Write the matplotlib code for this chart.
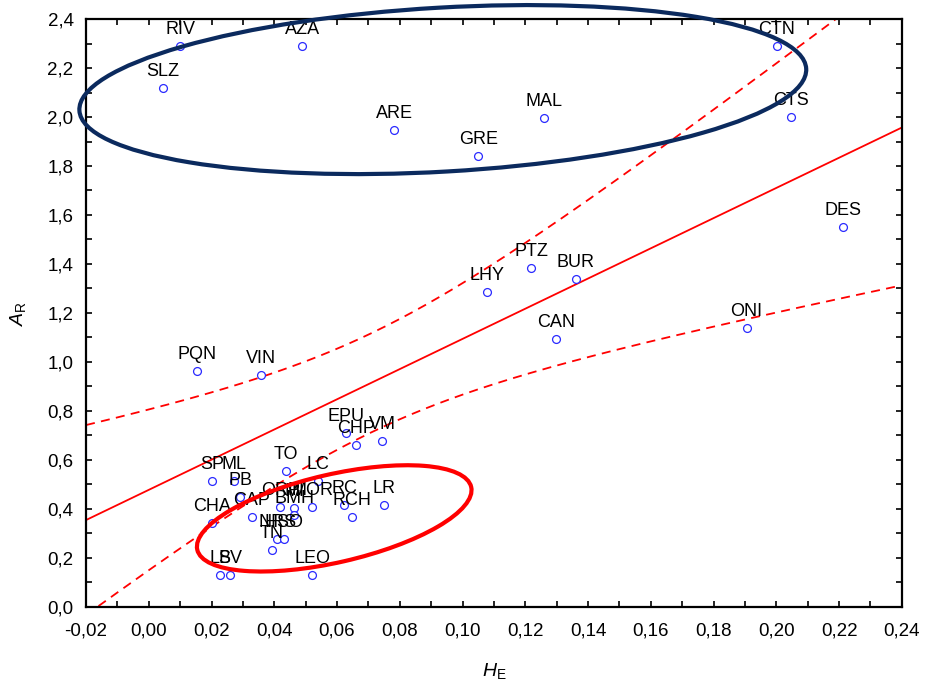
import numpy as np
import matplotlib
matplotlib.use("Agg")
import matplotlib.pyplot as plt
from matplotlib.patches import Ellipse
from matplotlib.transforms import ScaledTranslation
from matplotlib.ticker import MultipleLocator, FuncFormatter

plt.rcParams['font.family'] = ['Liberation Sans', 'DejaVu Sans']
plt.rcParams['mathtext.fontset'] = 'custom'
plt.rcParams['mathtext.rm'] = 'Liberation Sans'
plt.rcParams['mathtext.it'] = 'Liberation Sans:italic'

# Populations: expected heterozygosity (H_E) and allelic richness (A_R)
labels = ["RIV", "AZA", "SLZ", "ARE", "MAL", "GRE", "CTN", "CTS", "DES",
          "PTZ", "BUR", "LHY", "CAN", "ONI", "PQN", "VIN", "EPU", "CHP",
          "VM", "TO", "SP", "ML", "LC", "PB", "CHA", "RC", "RCH", "LR",
          "LEO", "LS", "BV", "TN", "CAP", "ORP", "MI", "MOR", "BMH",
          "NRS", "HSO"]
he = [0.0100, 0.0489, 0.0046, 0.0782, 0.1258, 0.1050, 0.2001, 0.2046, 0.2211,
      0.1219, 0.1360, 0.1079, 0.1299, 0.1905, 0.0154, 0.0358, 0.0629, 0.0661,
      0.0744, 0.0438, 0.0202, 0.0272, 0.0540, 0.0291, 0.0202, 0.0623, 0.0649, 0.0751,
      0.0521, 0.0227, 0.0259, 0.0393, 0.0329, 0.0419, 0.0463, 0.0521, 0.0463,
      0.0409, 0.0432]
ar = [2.290, 2.290, 2.118, 1.947, 1.996, 1.841, 2.290, 2.000, 1.551,
      1.384, 1.339, 1.286, 1.094, 1.139, 0.963, 0.947, 0.710, 0.661,
      0.678, 0.555, 0.514, 0.514, 0.514, 0.449, 0.343, 0.416, 0.367, 0.416,
      0.131, 0.131, 0.131, 0.233, 0.367, 0.408, 0.404, 0.408, 0.376,
      0.278, 0.278]

x = np.array(he)
y = np.array(ar)

# Linear fit with 95% confidence band for the mean
n = len(x)
slope, intercept = np.polyfit(x, y, 1)
resid = y - (slope * x + intercept)
s = np.sqrt(np.sum(resid ** 2) / (n - 2))
sxx = np.sum((x - x.mean()) ** 2)
t_crit = 2.026
xs = np.linspace(-0.02, 0.24, 300)
fit = slope * xs + intercept
half = t_crit * s * np.sqrt(1.0 / n + (xs - x.mean()) ** 2 / sxx)

fig = plt.figure(figsize=(9.25, 6.81), dpi=100)
ax = fig.add_axes([0.093, 0.109, 0.882, 0.863])

ax.plot(xs, fit, color='#ff0000', lw=1.3, zorder=2)
ax.plot(xs, fit + half, color='#ff0000', lw=1.3, ls=(0, (5, 3.5)), zorder=2)
ax.plot(xs, fit - half, color='#ff0000', lw=1.3, ls=(0, (5, 3.5)), zorder=2)

ax.scatter(x, y, s=32, facecolors='white', edgecolors='#2a2aff', linewidths=0.9, zorder=3)

for lab, xi, yi in zip(labels, x, y):
    ax.annotate(lab, (xi, yi), xytext=(0, 8.5), textcoords='offset points',
                ha='center', va='baseline', fontsize=13, color='black', zorder=4)

# Group outlines (sizes in inches, centred on data positions)
def outline(cx, cy, w, h, ang, color):
    tr = fig.dpi_scale_trans + ScaledTranslation(cx, cy, ax.transData)
    e = Ellipse((0, 0), w, h, angle=ang, fill=False, edgecolor=color,
                lw=3.0, transform=tr, clip_on=False, zorder=5)
    ax.add_patch(e)

outline(0.0937, 2.112, 7.28, 1.64, 3.3, '#0b2a5e')
outline(0.0591, 0.361, 2.81, 0.88, 12.9, '#ff0000')

ax.set_xlim(-0.02, 0.24)
ax.set_ylim(0.0, 2.4)
ax.xaxis.set_major_locator(MultipleLocator(0.02))
ax.xaxis.set_minor_locator(MultipleLocator(0.01))
ax.yaxis.set_major_locator(MultipleLocator(0.2))
ax.yaxis.set_minor_locator(MultipleLocator(0.1))

def comma_fmt(decimals):
    return FuncFormatter(lambda v, p: f"{v:.{decimals}f}".replace('-0.00', '0.00').replace('.', ','))

ax.xaxis.set_major_formatter(comma_fmt(2))
ax.yaxis.set_major_formatter(comma_fmt(1))

ax.tick_params(which='both', direction='in', top=True, right=True,
               length=4, width=1.2, labelsize=13.5)
ax.tick_params(axis='x', pad=11)
ax.tick_params(axis='y', pad=9)
for sp in ax.spines.values():
    sp.set_linewidth(1.6)

ax.set_xlabel(r'$H_\mathrm{E}$', fontsize=14, labelpad=16)
ax.set_ylabel(r'$A_\mathrm{R}$', fontsize=14, labelpad=14)

fig.savefig("out.png", dpi=100)
